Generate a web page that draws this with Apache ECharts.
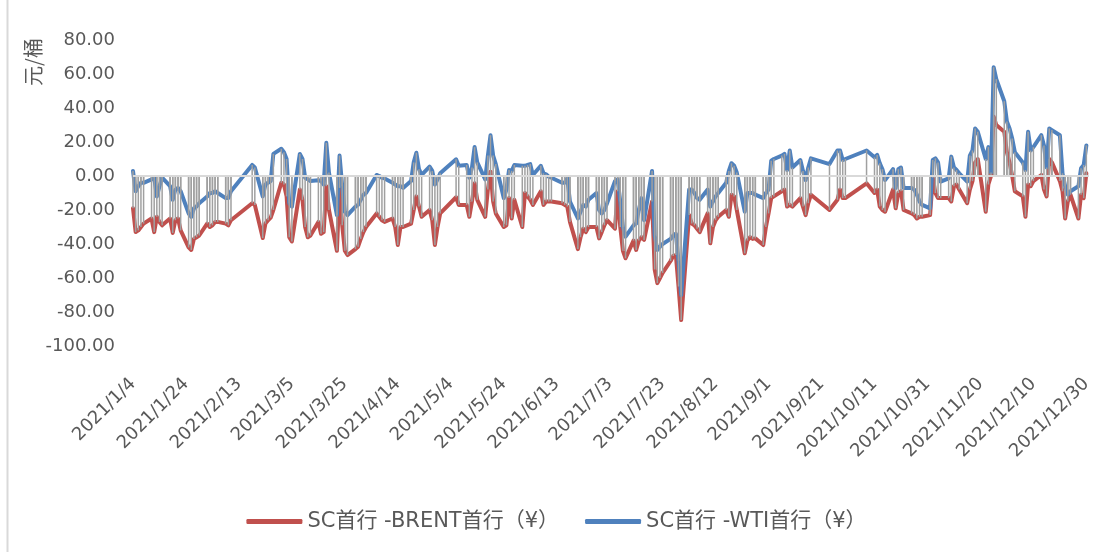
<!DOCTYPE html>
<html>
<head>
<meta charset="utf-8">
<title>SC首行 - BRENT/WTI首行</title>
<script src="https://cdn.jsdelivr.net/npm/echarts@6/dist/echarts.min.js"></script>
<style>
    html, body { margin: 0; padding: 0; background: #fff; }
    #chart { width: 1113px; height: 552px; }
</style>
</head>
<body>
<div id="chart"></div>
<script>
(function () {
    'use strict';

    // trading days (Shanghai INE calendar, 2021)
    var dates = [
        '2021/1/4', '2021/1/5', '2021/1/6', '2021/1/7', '2021/1/8', '2021/1/11', '2021/1/12', '2021/1/13', '2021/1/14', '2021/1/15',
        '2021/1/18', '2021/1/19', '2021/1/20', '2021/1/21', '2021/1/22', '2021/1/25', '2021/1/26', '2021/1/27', '2021/1/28', '2021/1/29',
        '2021/2/1', '2021/2/2', '2021/2/3', '2021/2/4', '2021/2/5', '2021/2/8', '2021/2/9', '2021/2/10', '2021/2/18', '2021/2/19',
        '2021/2/22', '2021/2/23', '2021/2/24', '2021/2/25', '2021/2/26',
        '2021/3/1', '2021/3/2', '2021/3/3', '2021/3/4', '2021/3/5', '2021/3/8', '2021/3/9', '2021/3/10', '2021/3/11', '2021/3/12',
        '2021/3/15', '2021/3/16', '2021/3/17', '2021/3/18', '2021/3/19', '2021/3/22', '2021/3/23', '2021/3/24', '2021/3/25', '2021/3/26',
        '2021/3/29', '2021/3/30', '2021/3/31',
        '2021/4/1', '2021/4/2', '2021/4/6', '2021/4/7', '2021/4/8', '2021/4/9', '2021/4/12', '2021/4/13', '2021/4/14', '2021/4/15',
        '2021/4/16', '2021/4/19', '2021/4/20', '2021/4/21', '2021/4/22', '2021/4/23', '2021/4/26', '2021/4/27', '2021/4/28', '2021/4/29',
        '2021/4/30',
        '2021/5/6', '2021/5/7', '2021/5/10', '2021/5/11', '2021/5/12', '2021/5/13', '2021/5/14', '2021/5/17', '2021/5/18', '2021/5/19',
        '2021/5/20', '2021/5/21', '2021/5/24', '2021/5/25', '2021/5/26', '2021/5/27', '2021/5/28', '2021/5/31',
        '2021/6/1', '2021/6/2', '2021/6/3', '2021/6/4', '2021/6/7', '2021/6/8', '2021/6/9', '2021/6/10', '2021/6/11', '2021/6/15',
        '2021/6/16', '2021/6/17', '2021/6/18', '2021/6/21', '2021/6/22', '2021/6/23', '2021/6/24', '2021/6/25', '2021/6/28', '2021/6/29',
        '2021/6/30',
        '2021/7/1', '2021/7/2', '2021/7/5', '2021/7/6', '2021/7/7', '2021/7/8', '2021/7/9', '2021/7/12', '2021/7/13', '2021/7/14',
        '2021/7/15', '2021/7/16', '2021/7/19', '2021/7/20', '2021/7/21', '2021/7/22', '2021/7/23', '2021/7/26', '2021/7/27', '2021/7/28',
        '2021/7/29', '2021/7/30',
        '2021/8/2', '2021/8/3', '2021/8/4', '2021/8/5', '2021/8/6', '2021/8/9', '2021/8/10', '2021/8/11', '2021/8/12', '2021/8/13',
        '2021/8/16', '2021/8/17', '2021/8/18', '2021/8/19', '2021/8/20', '2021/8/23', '2021/8/24', '2021/8/25', '2021/8/26', '2021/8/27',
        '2021/8/30', '2021/8/31',
        '2021/9/1', '2021/9/2', '2021/9/3', '2021/9/6', '2021/9/7', '2021/9/8', '2021/9/9', '2021/9/10', '2021/9/13', '2021/9/14',
        '2021/9/15', '2021/9/16', '2021/9/17', '2021/9/24', '2021/9/27', '2021/9/28', '2021/9/29', '2021/9/30',
        '2021/10/8', '2021/10/11', '2021/10/12', '2021/10/13', '2021/10/14', '2021/10/15', '2021/10/18', '2021/10/19', '2021/10/20', '2021/10/21',
        '2021/10/22', '2021/10/25', '2021/10/26', '2021/10/27', '2021/10/28', '2021/10/29',
        '2021/11/1', '2021/11/2', '2021/11/3', '2021/11/4', '2021/11/5', '2021/11/8', '2021/11/9', '2021/11/10', '2021/11/11', '2021/11/12',
        '2021/11/15', '2021/11/16', '2021/11/17', '2021/11/18', '2021/11/19', '2021/11/22', '2021/11/23', '2021/11/24', '2021/11/25', '2021/11/26',
        '2021/11/29', '2021/11/30',
        '2021/12/1', '2021/12/2', '2021/12/3', '2021/12/6', '2021/12/7', '2021/12/8', '2021/12/9', '2021/12/10', '2021/12/13', '2021/12/14',
        '2021/12/15', '2021/12/16', '2021/12/17', '2021/12/20', '2021/12/21', '2021/12/22', '2021/12/23', '2021/12/24', '2021/12/27', '2021/12/28',
        '2021/12/29', '2021/12/30'
    ];

    // SC首行 - BRENT首行 (元/桶)
    var brentSpread = [
        -19, -33, -32, -30, -28, -25, -33, -24, -27, -29,
        -25, -33.5, -26, -25, -32, -42, -43.5, -37, -36, -35,
        -28, -30, -29, -27, -27, -28, -29, -26, -16, -17,
        -36.5, -28, -26, -24.5, -20,
        -4, -5, -12, -36, -38.5, -8, -14, -30, -36, -35,
        -27, -34, -33, -6, -20, -44, -7, -29, -44, -46.5,
        -43, -41.6, -37,
        -33, -30, -22, -24, -26, -27, -25, -30, -40.6, -30,
        -30, -28, -20, -12, -18, -24, -20, -26, -40.6, -30,
        -22,
        -12.5, -17, -17, -24, -15, -4.3, -14, -24, -8, 2.5,
        -15, -22, -30, -29, -13, -25, -14, -30,
        -10, -12, -14, -17, -9, -17, -15, -15, -15, -16,
        -17, -18, -27, -43, -36, -31, -33, -30, -30, -36.7,
        -33,
        -29, -26, -31, -9, -30, -44, -48.4, -38, -43.5, -38,
        -36, -37.6, -15, -55, -63, -60, -57, -50, -47, -46.5,
        -65, -84.7,
        -23, -28, -29, -31, -33, -22, -39.6, -30, -26, -24,
        -20, -24, -11, -12, -20, -45.5, -38, -36, -37, -36.7,
        -40.6, -30,
        -22, -13, -12, -9, -8, -18, -17, -18, -13, -18,
        -23, -16, -11, -20, -14, -8, -13, -13,
        -4.3, -10, -8, -18, -20, -21, -8, -19, -10, -9,
        -20, -22, -23, -25, -24, -24,
        -23, -1, -10, -13, -13, -13, -15, -6, -5, -8,
        -16, -8, -3, 8, 10, -21, -5, 0, 35, 30,
        26, 14,
        8, 0, -9, -12, -24, -5, -6, -3, 0.6, -8,
        -12, 10, 8, -3, -9, -25, -15, -11, -25, -11,
        -13, 1.6
    ];

    // SC首行 - WTI首行 (元/桶)
    var wtiSpread = [
        3, -9, -6, -4, -4, -2, -1, -12, -6, -1,
        -6, -14, -8, -7, -9, -22, -24, -19, -18, -16,
        -12, -10, -10, -9, -10, -13, -13, -9, 6.5, 5,
        -12, -5, -4, -3, 13,
        16, 14, 10, -16, -18, 13, 10, -1, -2, -3,
        -2.5, -3, -5, 19.5, 2, -23, 12, -6, -21, -23,
        -18, -17, -14,
        -11, -10, 0.6, 0, -1, -1.4, -4, -5, -6, -6,
        -7, -3, 8, 13.7, 4, 0.6, 5.5, 3, -5, -2,
        1.6,
        9.8, 6, 6.5, -1, 5, 17, 8, -2, 12, 24,
        12, 7, -13, -8, 3.5, 3, 6.5, 6,
        6, 6.5, 7, 0.6, 6, 1.6, 1, -0.4, -1, -4,
        -4, -1.4, -15, -25, -21, -17, -18, -14, -10, -20,
        -22,
        -20, -16, -3, -2, -15, -30, -35.7, -29, -28, -20,
        -13, -26, 3, -35, -43.5, -41.6, -40, -37, -35, -34,
        -50, -70,
        -8, -8, -10, -13, -14, -8, -18, -15, -12, -10,
        -4, 3, 7.5, 6, 2, -21, -10, -10, -10, -11,
        -13, -10,
        -8, 9, 10, 12, 13, 3.5, 15, 5, 9.4, 3,
        -2.4, 5, 10.4, 7, 15, 15, 9.4, 10,
        15, 11, 12.4, 7.5, 4, -2.4, 4, -7, 4, 5,
        -7, -7, -8, -11, -15, -17,
        -19, 9.4, 10.4, 8, -3.3, -1.4, 11.4, 5, 3.5, 1.6,
        -3.3, 12, 15, 28, 26, 10, 17, 2, 64, 57,
        44, 32,
        28, 22, 14, 8, 3.5, 26, 15, 17, 24, 18,
        5, 28, 27, 24, 1.6, -6, -11, -9, -6, 4.5,
        6.5, 18
    ];

    var yTicks = { min: -100, max: 80, step: 20 };
    var xTickDays = 20;

    var DAY = 86400000;
    var start = new Date(2021, 0, 4).getTime();

    function dayIndex(s) {
        var p = s.split('/');
        return Math.round((new Date(+p[0], +p[1] - 1, +p[2]).getTime() - start) / DAY);
    }

    function dayLabel(d) {
        if (d % xTickDays !== 0) {
            return '';
        }
        var t = new Date(start + d * DAY);
        return t.getFullYear() + '/' + (t.getMonth() + 1) + '/' + t.getDate();
    }

    function pairs(values) {
        return values.map(function (v, i) {
            return [dayIndex(dates[i]), v];
        });
    }

    var brentData = pairs(brentSpread);
    var wtiData = pairs(wtiSpread);

    var textColor = '#595959';
    var fontFamily = '"DejaVu Sans", "Noto Sans CJK SC", sans-serif';
    var cjkFont = '"Noto Sans CJK SC", sans-serif';

    var chart = echarts.init(document.getElementById('chart'), null, { renderer: 'canvas' });

    var option = {
        backgroundColor: '#fff',
        animation: false,
        textStyle: { fontFamily: fontFamily },
        grid: { left: 133, right: 24, top: 40, bottom: 206 },
        graphic: [
            {
                type: 'text',
                x: 33,
                y: 62,
                rotation: Math.PI / 2,
                style: {
                    text: '元/桶',
                    fill: textColor,
                    font: '20px ' + cjkFont,
                    textAlign: 'center',
                    textVerticalAlign: 'middle'
                }
            },
            {
                type: 'line',
                shape: { x1: 7.5, y1: 0, x2: 7.5, y2: 552 },
                style: { stroke: '#d9d9d9', lineWidth: 2 }
            }
        ],
        legend: {
            top: 506,
            left: 'center',
            icon: 'roundRect',
            itemWidth: 56,
            itemHeight: 5,
            itemGap: 26,
            textStyle: { color: textColor, fontSize: 21, fontFamily: fontFamily },
            data: ['SC首行 -BRENT首行（¥）', 'SC首行 -WTI首行（¥）']
        },
        xAxis: {
            type: 'value',
            min: 0,
            max: 361,
            interval: xTickDays,
            axisLine: { show: false },
            axisTick: { show: false },
            splitLine: { show: false },
            axisLabel: {
                rotate: 45,
                margin: 35,
                color: textColor,
                fontSize: 18,
                showMaxLabel: false,
                formatter: dayLabel
            }
        },
        yAxis: {
            type: 'value',
            min: yTicks.min,
            max: yTicks.max,
            interval: yTicks.step,
            axisLine: { show: false },
            axisTick: { show: false },
            splitLine: { show: false },
            axisLabel: {
                margin: 18,
                color: textColor,
                fontSize: 18,
                formatter: function (v) { return v.toFixed(2); }
            }
        },
        series: [
            {
                name: 'SC首行 -BRENT首行（¥）',
                type: 'line',
                data: brentData,
                symbol: 'none',
                z: 2,
                lineStyle: { color: '#c0504d', width: 4, join: 'round', cap: 'round' },
                itemStyle: { color: '#c0504d' }
            },
            {
                name: 'SC首行 -WTI首行（¥）',
                type: 'line',
                data: wtiData,
                symbol: 'none',
                z: 2,
                lineStyle: { color: '#4f81bd', width: 4, join: 'round', cap: 'round' },
                itemStyle: { color: '#4f81bd' },
                markLine: {
                    silent: true,
                    symbol: 'none',
                    label: { show: false },
                    lineStyle: { color: '#d9d9d9', width: 2, type: 'solid' },
                    data: [{ yAxis: 0 }]
                }
            },
            // drop lines from each point to the 0 axis
            {
                name: 'drop-brent',
                type: 'bar',
                data: brentData,
                barWidth: 1.5,
                barGap: '-100%',
                z: 3,
                itemStyle: { color: '#a0a0a0' }
            },
            {
                name: 'drop-wti',
                type: 'bar',
                data: wtiData,
                barWidth: 1.5,
                barGap: '-100%',
                z: 3,
                itemStyle: { color: '#a0a0a0' }
            }
        ]
    };

    chart.setOption(option);
})();
</script>
</body>
</html>
